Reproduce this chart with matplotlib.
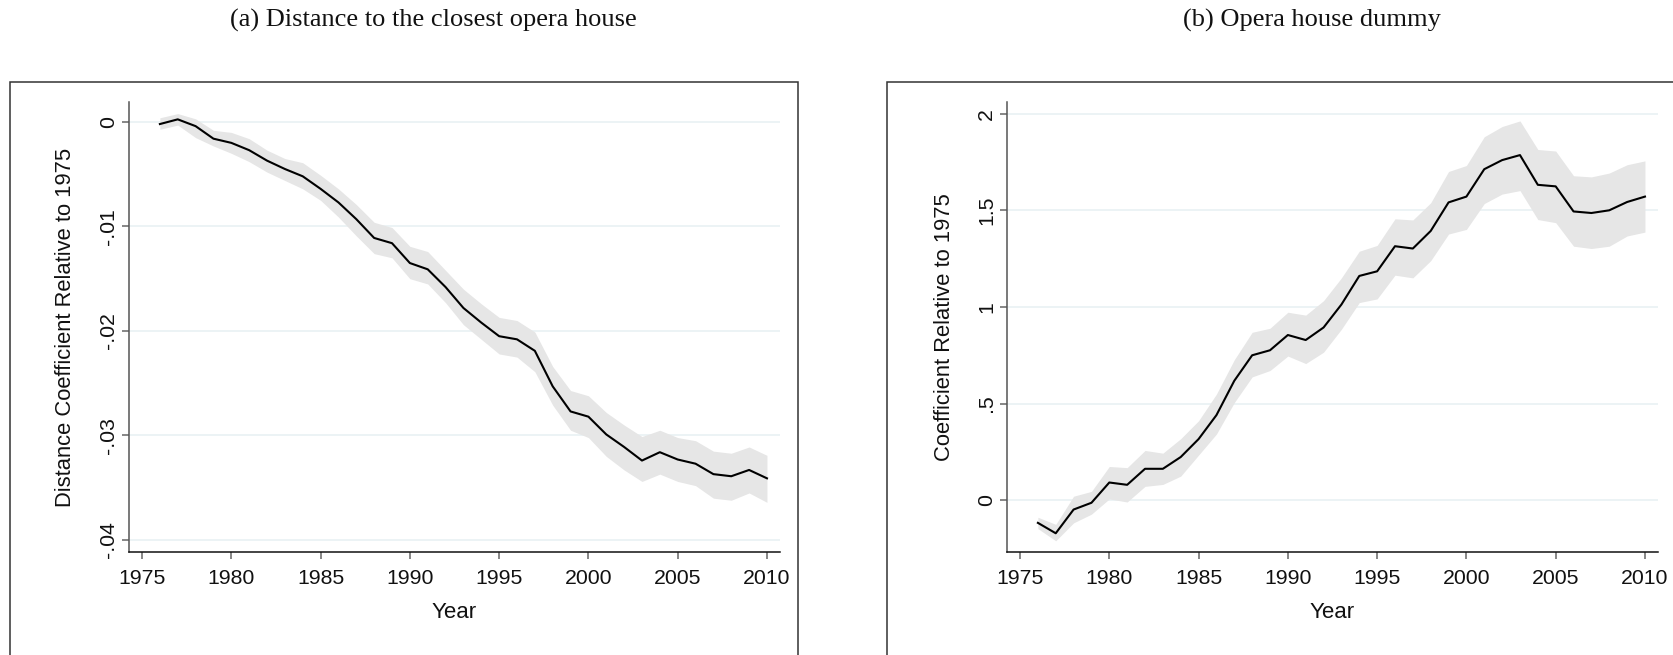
import matplotlib
matplotlib.use("Agg")
import matplotlib.pyplot as plt
from matplotlib.patches import Rectangle
import numpy as np

years = list(range(1976, 2011))

# Panel (a): distance coefficient
dist_coef = [-0.0002, 0.00025, -0.0004, -0.0016, -0.0020, -0.0027, -0.0037, -0.0045, -0.0052, -0.0064,
             -0.0077, -0.0093, -0.0111, -0.0116, -0.0135, -0.0141, -0.0158, -0.0178, -0.0192, -0.0205,
             -0.0208, -0.0219, -0.0253, -0.0277, -0.0282, -0.0299, -0.0311, -0.0324, -0.0316, -0.0323,
             -0.0327, -0.0337, -0.0339, -0.0333, -0.0341]
dist_upper = [0.0004, 0.0008, 0.0003, -0.0008, -0.0010, -0.0016, -0.0027, -0.0035, -0.0039, -0.0051,
              -0.0064, -0.0079, -0.0096, -0.0101, -0.0119, -0.0124, -0.0142, -0.0160, -0.0174, -0.0187,
              -0.0190, -0.0201, -0.0234, -0.0257, -0.0262, -0.0278, -0.0290, -0.0301, -0.0295, -0.0302,
              -0.0305, -0.0315, -0.0317, -0.0311, -0.0319]
dist_lower = [-0.0007, -0.0003, -0.0015, -0.0023, -0.0030, -0.0038, -0.0048, -0.0056, -0.0064, -0.0075,
              -0.0091, -0.0109, -0.0126, -0.0130, -0.0150, -0.0155, -0.0173, -0.0194, -0.0208, -0.0222,
              -0.0225, -0.0239, -0.0271, -0.0295, -0.0302, -0.0320, -0.0333, -0.0344, -0.0337, -0.0344,
              -0.0348, -0.0360, -0.0362, -0.0355, -0.0364]

# Panel (b): opera house dummy
dummy_coef = [-0.118, -0.172, -0.049, -0.014, 0.091, 0.079, 0.162, 0.162, 0.223, 0.316,
              0.440, 0.618, 0.750, 0.776, 0.855, 0.829, 0.894, 1.013, 1.161, 1.185,
              1.315, 1.303, 1.394, 1.542, 1.572, 1.714, 1.761, 1.787, 1.633, 1.625,
              1.495, 1.487, 1.501, 1.544, 1.572]
dummy_upper = [-0.089, -0.126, 0.020, 0.045, 0.174, 0.168, 0.257, 0.243, 0.318, 0.411,
               0.549, 0.727, 0.869, 0.890, 0.973, 0.958, 1.033, 1.151, 1.289, 1.319,
               1.457, 1.451, 1.540, 1.702, 1.733, 1.882, 1.935, 1.964, 1.816, 1.808,
               1.680, 1.674, 1.694, 1.737, 1.757]
dummy_lower = [-0.148, -0.211, -0.118, -0.073, 0.006, -0.010, 0.071, 0.081, 0.124, 0.233,
               0.342, 0.505, 0.638, 0.671, 0.746, 0.707, 0.766, 0.885, 1.023, 1.042,
               1.165, 1.151, 1.240, 1.378, 1.402, 1.536, 1.585, 1.603, 1.453, 1.437,
               1.315, 1.303, 1.315, 1.368, 1.388]

xticks = [1975, 1980, 1985, 1990, 1995, 2000, 2005, 2010]
yticks_a = [0, -0.01, -0.02, -0.03, -0.04]
yticklabels_a = ["0", "-.01", "-.02", "-.03", "-.04"]
yticks_b = [0, 0.5, 1, 1.5, 2]
yticklabels_b = ["0", ".5", "1", "1.5", "2"]

W, H = 1673, 655
fig = plt.figure(figsize=(W / 100, H / 100), dpi=100)
fig.patch.set_facecolor("white")

sans = "Liberation Sans"
serif = "Liberation Serif"

def fx(px):
    return px / W

def fy(py):
    return 1 - py / H

panels = [
    dict(left=129, right=780, coef=dist_coef, up=dist_upper, lo=dist_lower,
         yt=yticks_a, ytl=yticklabels_a, ylim=(-0.04115, 0.00191),
         ylabel="Distance Coefficient Relative to 1975",
         title="(a) Distance to the closest opera house", title_x=433,
         box=(9.5, 798)),
    dict(left=1007, right=1658, coef=dummy_coef, up=dummy_upper, lo=dummy_lower,
         yt=yticks_b, ytl=yticklabels_b, ylim=(-0.269, 2.062),
         ylabel="Coefficient Relative to 1975",
         title="(b) Opera house dummy", title_x=1312,
         box=(887, 1700)),
]

top_px, bot_px = 102, 552
for p in panels:
    ax = fig.add_axes([fx(p["left"]), fy(bot_px), fx(p["right"] - p["left"]), (bot_px - top_px) / H])
    ax.fill_between(years, p["lo"], p["up"], color="#e6e6e6", linewidth=0, zorder=2)
    ax.plot(years, p["coef"], color="black", linewidth=1.5, zorder=3)
    ax.set_xlim(1974.27, 2010.73)
    ax.set_ylim(*p["ylim"])
    ax.set_xticks(xticks)
    ax.set_xticklabels([str(t) for t in xticks], fontsize=15.3, fontfamily=sans, color="#111111")
    ax.set_yticks(p["yt"])
    ax.set_yticklabels(p["ytl"], fontsize=15.3, fontfamily=sans, rotation=90, va="center", color="#111111")
    ax.grid(axis="y", color="#e9f1f3", linewidth=1.2, zorder=1)
    ax.set_axisbelow(True)
    for s in ["top", "right"]:
        ax.spines[s].set_visible(False)
    ax.spines["left"].set_color("#555555")
    ax.spines["left"].set_linewidth(1.1)
    ax.spines["bottom"].set_color("#111111")
    ax.spines["bottom"].set_linewidth(1.1)
    ax.tick_params(axis="both", direction="out", length=5, width=1.1, color="#666666")
    ax.tick_params(axis="x", pad=7)
    ax.tick_params(axis="y", pad=3)
    ax.set_ylabel(p["ylabel"], fontsize=15.8, fontfamily=sans, va="center", color="#111111")
    ax.yaxis.set_label_coords(-63 / 651, 0.5)
    ax.set_xlabel("Year", fontsize=16, fontfamily=sans, va="center", color="#111111")
    ax.xaxis.set_label_coords(0.5, -61 / 450)
    ax.set_facecolor("white")

    fig.text(fx(p["title_x"]), fy(20), p["title"], fontsize=19, fontfamily=serif,
             ha="center", va="center", color="#111111")
    bx0, bx1 = p["box"]
    rect = Rectangle((fx(bx0), -0.05), fx(bx1 - bx0), fy(82) + 0.05, transform=fig.transFigure,
                     fill=False, edgecolor="#333333", linewidth=1.1, clip_on=False)
    fig.patches.append(rect)

fig.savefig("out.png", dpi=100, facecolor="white")
